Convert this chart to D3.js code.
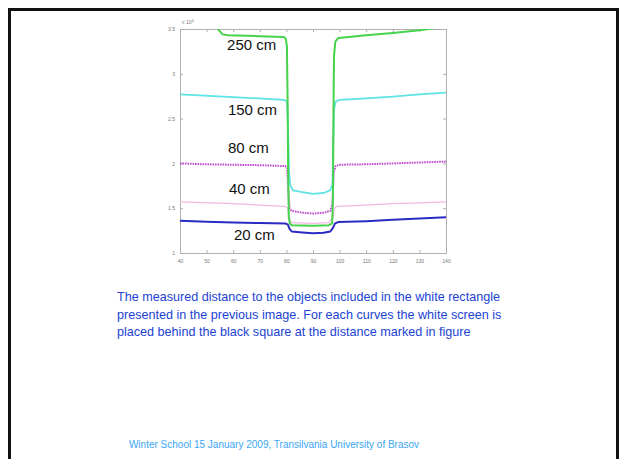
<!DOCTYPE html>
<html>
<head>
<meta charset="utf-8">
<script src="https://cdn.jsdelivr.net/npm/d3@7"></script>
<style>
  body { margin: 0; background: #fff; }
  svg { display: block; font-family: Arial, "Liberation Sans", sans-serif; }
</style>
</head>
<body>
<svg id="chart" width="619" height="459"></svg>
<script>
// curves: [x, value] pairs (value in units of 10^4)
const curve250 = [[40,3.9],[50,3.7],[53,3.57],[54.5,3.49],[56,3.44],[58,3.43],[70,3.42],[79,3.41],[79.8,3.39],[80.2,3.3],[80.5,2.6],[80.7,1.8],[80.9,1.4],[81.3,1.33],[82,1.31],[90,1.305],[96,1.31],[97.2,1.33],[97.5,1.6],[97.7,2.6],[97.9,3.2],[98.4,3.36],[99.5,3.40],[110,3.43],[120,3.455],[130,3.485],[135,3.505],[140,3.53]];
const curve150 = [[40,2.77],[60,2.74],[79,2.71],[80.2,2.69],[80.6,2.4],[81,1.9],[81.5,1.75],[82.5,1.70],[86,1.68],[90,1.66],[94,1.67],[96.5,1.70],[97.3,1.76],[97.6,2.2],[97.9,2.6],[98.5,2.69],[100,2.71],[110,2.725],[120,2.745],[130,2.77],[140,2.79]];
const curve80 = [[40,2.0],[50,1.99],[60,1.985],[70,1.98],[79.5,1.97],[80.3,1.95],[80.7,1.7],[81.2,1.5],[82,1.47],[86,1.45],[90,1.44],[94,1.45],[96.5,1.47],[97.3,1.55],[97.8,1.9],[98.5,1.97],[100,1.985],[110,1.99],[120,2.0],[130,2.01],[140,2.02]];
const curve40 = [[40,1.57],[60,1.55],[79.5,1.52],[80.5,1.50],[81,1.38],[82,1.34],[90,1.33],[96,1.34],[97.5,1.40],[98,1.50],[99,1.52],[110,1.535],[120,1.55],[130,1.56],[140,1.57]];
const curve20 = [[40,1.36],[50,1.35],[60,1.34],[70,1.335],[79.5,1.33],[80.5,1.32],[81.2,1.27],[82,1.24],[86,1.23],[90,1.22],[94,1.225],[96.5,1.24],[97.5,1.28],[98.3,1.33],[99.5,1.345],[110,1.355],[120,1.37],[130,1.385],[140,1.40]];

const xTicks = [40, 50, 60, 70, 80, 90, 100, 110, 120, 130, 140];
const yTicks = [1, 1.5, 2, 2.5, 3, 3.5];
const labelNames = ['250 cm', '150 cm', '80 cm', '40 cm', '20 cm'];
const labelAt = [[57.7, 3.266], [58.0, 2.54], [58.0, 2.116], [58.4, 1.658], [60.3, 1.145]];

const caption = [
  'The measured distance to the objects included in the white rectangle',
  'presented in the previous image. For each curves the white screen is',
  'placed behind the black square at the distance marked in figure'
];
const footer = 'Winter School 15 January 2009, Transilvania University of Brasov';

const svg = d3.select('#chart');

// slide frame
svg.append('rect')
    .attr('x', 9.5).attr('y', 9.5)
    .attr('width', 608).attr('height', 470)
    .attr('fill', 'none')
    .attr('stroke', '#111')
    .attr('stroke-width', 3);

const m = {left: 180, top: 29, right: 446, bottom: 253};

const x = d3.scaleLinear().domain([40, 140]).range([m.left, m.right]);
const y = d3.scaleLinear().domain([1, 3.5]).range([m.bottom, m.top]);

const g = svg.append('g');

g.append('clipPath').attr('id', 'plotclip')
  .append('rect')
    .attr('x', m.left).attr('y', m.top)
    .attr('width', m.right - m.left).attr('height', m.bottom - m.top);

// axes (matlab style box, inward ticks)
const axisStyle = sel => {
  sel.selectAll('.domain').attr('stroke', '#b0b0b0');
  sel.selectAll('.tick line').attr('stroke', '#b0b0b0');
  sel.selectAll('.tick text').attr('fill', '#777').attr('font-size', 5);
};

g.append('g')
    .attr('transform', 'translate(0,' + m.bottom + ')')
    .call(d3.axisBottom(x).tickValues(xTicks).tickSizeInner(-3).tickSizeOuter(0).tickPadding(6))
    .call(axisStyle);
g.append('g')
    .attr('transform', 'translate(0,' + m.top + ')')
    .call(d3.axisTop(x).tickValues(xTicks).tickSizeInner(-3).tickSizeOuter(0).tickFormat(''))
    .call(axisStyle);
g.append('g')
    .attr('transform', 'translate(' + m.left + ',0)')
    .call(d3.axisLeft(y).tickValues(yTicks).tickSizeInner(-3).tickSizeOuter(0).tickPadding(5).tickFormat(d3.format('~g')))
    .call(axisStyle);
g.append('g')
    .attr('transform', 'translate(' + m.right + ',0)')
    .call(d3.axisRight(y).tickValues(yTicks).tickSizeInner(-3).tickSizeOuter(0).tickFormat(''))
    .call(axisStyle);

const expo = g.append('text')
    .attr('x', m.left + 2).attr('y', m.top - 5)
    .attr('font-size', 5).attr('fill', '#777')
    .text('x 10');
expo.append('tspan').attr('dy', -2).attr('font-size', 4).text('4');

const line = d3.line().x(d => x(d[0])).y(d => y(d[1]));

const series = [
  {data: curve40, color: '#f2b8e2', width: 1.2, dash: null},
  {data: curve150, color: '#5ee3e3', width: 1.8, dash: null},
  {data: curve80, color: '#c24fd2', width: 2, dash: '1.6,0.9'},
  {data: curve20, color: '#2a2ac4', width: 2, dash: null},
  {data: curve250, color: '#46d24a', width: 2, dash: null}
];

g.append('g').attr('clip-path', 'url(#plotclip)')
  .selectAll('path')
  .data(series)
  .join('path')
    .attr('d', d => line(d.data))
    .attr('fill', 'none')
    .attr('stroke', d => d.color)
    .attr('stroke-width', d => d.width)
    .attr('stroke-dasharray', d => d.dash)
    .attr('stroke-linejoin', 'round');

g.selectAll('.lbl')
  .data(labelNames)
  .join('text')
    .attr('class', 'lbl')
    .attr('x', (d, i) => x(labelAt[i][0]))
    .attr('y', (d, i) => y(labelAt[i][1]))
    .attr('font-size', 15)
    .attr('fill', '#111')
    .text(d => d);

svg.selectAll('.cap')
  .data(caption)
  .join('text')
    .attr('class', 'cap')
    .attr('x', 117)
    .attr('y', (d, i) => 301 + i * 17.5)
    .attr('font-size', 12.6)
    .attr('fill', '#2142d4')
    .text(d => d);

svg.append('text')
    .attr('x', 274).attr('y', 448)
    .attr('text-anchor', 'middle')
    .attr('font-size', 10)
    .attr('fill', '#3aa6f2')
    .text(footer);
</script>
</body>
</html>
